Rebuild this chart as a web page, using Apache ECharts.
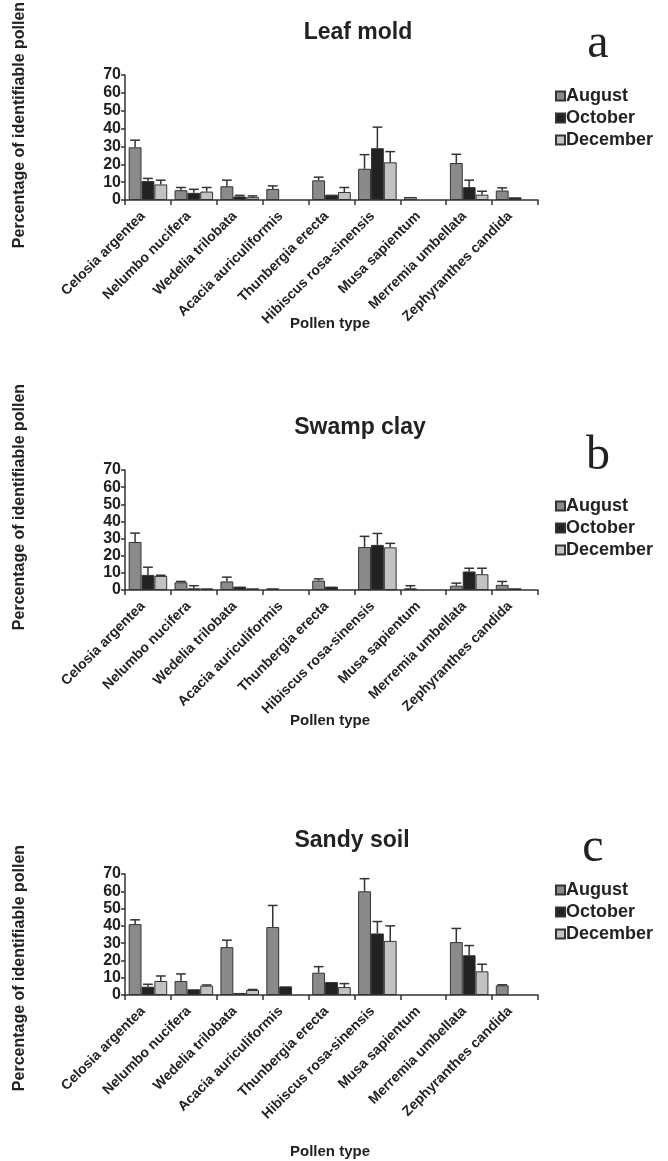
<!DOCTYPE html>
<html>
<head>
<meta charset="utf-8">
<script src="https://cdn.jsdelivr.net/npm/echarts@6/dist/echarts.min.js"></script>
<style>
html,body{margin:0;padding:0;background:#fff;}
#chart{width:668px;height:1161px;}
</style>
</head>
<body>
<div id="chart"></div>
<script>
// ---- data ----
var categories = ['Celosia argentea','Nelumbo nucifera','Wedelia trilobata','Acacia auriculiformis','Thunbergia erecta','Hibiscus rosa-sinensis','Musa sapientum','Merremia umbellata','Zephyranthes candida'];
var months = ['August','October','December'];
var yTicks = [0,10,20,30,40,50,60,70];
var panelTitles = ['Leaf mold','Swamp clay','Sandy soil'];
var panelLetters = ['a','b','c'];

// Leaf mold: bar value and error-bar top
var leafAug    = [29.5, 5.5, 7.7, 6.2, 11, 17.5, 1.7, 20.7, 5.3];
var leafAugErr = [33.5, 7, 11.1, 7.9, 12.8, 25.4, null, 25.6, 6.8];
var leafOct    = [10.6, 4, 2, null, 3, 29, null, 7.2, 1.5];
var leafOctErr = [12.1, 6, 2.6, null, null, 40.8, null, 11.1, null];
var leafDec    = [8.7, 4.7, 1.6, null, 4.5, 21.1, null, 3, null];
var leafDecErr = [11.1, 7, 2.3, null, 7, 27.1, null, 4.9, null];

// Swamp clay
var swampAug    = [28, 4.5, 5, 1, 5.5, 25.1, 1, 2.5, 3];
var swampAugErr = [33.2, 5, 7.5, null, 6.5, 31.3, 2.5, 4, 5];
var swampOct    = [8.8, 1, 2, null, 2, 26.3, null, 10.8, 1];
var swampOctErr = [13.3, 2.5, null, null, null, 33, null, 12.7, null];
var swampDec    = [8.2, 1, 1, null, null, 24.9, null, 9.2, null];
var swampDecErr = [8.6, null, null, null, null, 27.2, null, 12.7, null];

// Sandy soil
var sandAug    = [41, 8.1, 27.7, 39.3, 12.9, 60, null, 30.6, 5.6];
var sandAugErr = [43.5, 12.2, 31.7, 51.8, 16.4, 67.3, null, 38.5, 5.9];
var sandOct    = [4.8, 3.3, 1.2, 5, 7.5, 35.6, null, 23, null];
var sandOctErr = [6.2, null, null, null, null, 42.5, null, 28.6, null];
var sandDec    = [8.1, 5.4, 2.9, null, 4.6, 31.3, null, 13.7, null];
var sandDecErr = [11, 5.8, 3.2, null, 6.6, 40, null, 17.8, null];

var panels = [
  {vals:[leafAug, leafOct, leafDec], errs:[leafAugErr, leafOctErr, leafDecErr]},
  {vals:[swampAug, swampOct, swampDec], errs:[swampAugErr, swampOctErr, swampDecErr]},
  {vals:[sandAug, sandOct, sandDec], errs:[sandAugErr, sandOctErr, sandDecErr]}
];

// ---- styling / layout ----
var colors = ['#8a8a8a', '#222222', '#c2c2c2'];
var FONT = '"Liberation Sans", Arial, sans-serif';
var catGap = 0.16;
var grids = [
  {left:125, width:413, top:75, height:125},
  {left:125, width:413, top:470, height:120},
  {left:125, width:413, top:874, height:121}
];
var titlePos = [{x:358,y:33},{x:360,y:428},{x:352,y:841}];
var letterPos = [{x:598,y:44},{x:598,y:456},{x:593,y:848}];
var legendTop = [82, 492, 876];
var yNameCenter = [125, 507, 968];
var xNamePos = [324, 721, 1152];

var option = {
  animation:false,
  backgroundColor:'#fff',
  grid:[], xAxis:[], yAxis:[], series:[], legend:[], graphic:[]
};

panels.forEach(function(p, gi){
  option.grid.push(grids[gi]);
  option.xAxis.push({
    type:'category', gridIndex:gi, data:categories,
    axisLine:{lineStyle:{color:'#333', width:1.5}},
    axisTick:{show:true, alignWithLabel:false, interval:0, length:5, lineStyle:{color:'#333', width:1.5}},
    axisLabel:{interval:0, rotate:45, margin:9, padding:[0,7,0,0], color:'#222', fontFamily:FONT, fontWeight:'bold', fontSize:14}
  });
  option.yAxis.push({
    type:'value', gridIndex:gi, min:yTicks[0], max:yTicks[yTicks.length-1], interval:10,
    splitLine:{show:false},
    axisLine:{show:true, lineStyle:{color:'#333', width:1.5}},
    axisTick:{show:true, length:4, lineStyle:{color:'#333', width:1.5}},
    axisLabel:{margin:4, color:'#222', fontFamily:FONT, fontWeight:'bold', fontSize:16}
  });
  months.forEach(function(m, k){
    option.series.push({
      type:'bar', id:'bar'+gi+'_'+k, name:m, xAxisIndex:gi, yAxisIndex:gi,
      data:p.vals[k], barGap:'0%', barCategoryGap:(catGap*100)+'%',
      itemStyle:{color:colors[k], borderColor:'#333', borderWidth:1},
      z:2
    });
  });
  months.forEach(function(m, k){
    var d = [];
    p.errs[k].forEach(function(e, i){
      if (e != null && p.vals[k][i] != null) d.push([i, e, p.vals[k][i]]);
    });
    option.series.push({
      type:'custom', id:'err'+gi+'_'+k, xAxisIndex:gi, yAxisIndex:gi, z:5,
      data:d, encode:{x:0, y:[1,2]}, silent:true,
      renderItem:(function(kk){ return function(params, api){
        var idx = api.value(0);
        var band = api.size([1,0])[0];
        var bw = band*(1-catGap)/3;
        var cx = api.coord([idx, 0])[0] + (kk-1)*bw;
        var yTop = api.coord([idx, api.value(1)])[1];
        var yBar = api.coord([idx, api.value(2)])[1];
        var cw = bw*0.38;
        var st = {stroke:'#333', lineWidth:1.5};
        return {type:'group', children:[
          {type:'line', shape:{x1:cx, y1:yBar, x2:cx, y2:yTop}, style:st},
          {type:'line', shape:{x1:cx-cw, y1:yTop, x2:cx+cw, y2:yTop}, style:st}
        ]};
      };})(k)
    });
  });
  option.legend.push({
    orient:'vertical', left:550, top:legendTop[gi], itemWidth:9, itemHeight:9, itemGap:4,
    icon:'rect', data:months, selectedMode:false,
    textStyle:{fontFamily:FONT, fontWeight:'bold', fontSize:18, color:'#222', padding:[0,0,0,-4]}
  });
  option.graphic.push(
    {type:'text', x:titlePos[gi].x, y:titlePos[gi].y, style:{text:panelTitles[gi], font:'bold 23px '+FONT, fill:'#222', textAlign:'center', textVerticalAlign:'middle'}},
    {type:'text', x:letterPos[gi].x, y:letterPos[gi].y, style:{text:panelLetters[gi], font:'48px "Liberation Serif", "Times New Roman", serif', fill:'#222', textAlign:'center', textVerticalAlign:'middle'}},
    {type:'text', x:20, y:yNameCenter[gi], rotation:Math.PI/2, style:{text:'Percentage of identifiable pollen', font:'bold 16px '+FONT, fill:'#222', textAlign:'center', textVerticalAlign:'middle'}},
    {type:'text', x:330, y:xNamePos[gi], style:{text:'Pollen type', font:'bold 15px '+FONT, fill:'#222', textAlign:'center', textVerticalAlign:'middle'}}
  );
});

var chart = echarts.init(document.getElementById('chart'), null, {renderer:'canvas'});
chart.setOption(option);
</script>
</body>
</html>
